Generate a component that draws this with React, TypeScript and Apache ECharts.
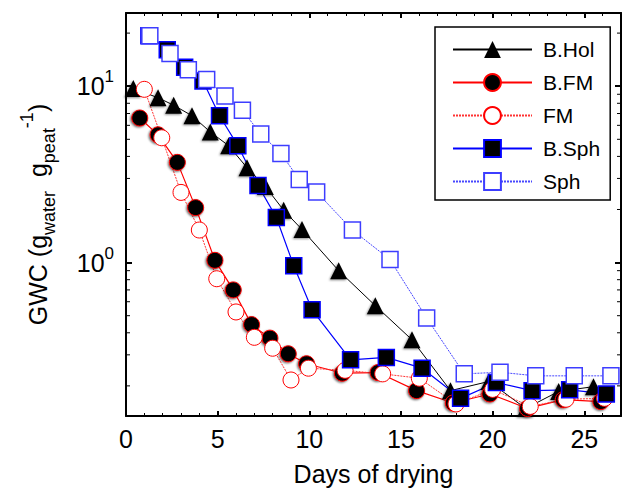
import React, { useEffect, useRef } from "react";
import * as echarts from "echarts";

// ---- data ----
const seriesNames = ["B.Hol", "B.FM", "FM", "B.Sph", "Sph"];

const bHolDays = [0.4, 1.75, 2.6, 3.6, 4.6, 5.6, 6.6, 7.6, 8.6, 9.6, 11.6, 13.6, 15.6, 17.7, 19.8, 21.8, 23.6, 25.5];
const bHolGwc = [9.7, 8.6, 7.8, 6.8, 5.5, 4.6, 3.45, 2.7, 1.98, 1.54, 0.9, 0.57, 0.365, 0.188, 0.212, 0.149, 0.186, 0.198];

const bFmDays = [0.75, 1.75, 2.8, 3.8, 4.85, 5.85, 6.85, 7.85, 8.85, 9.85, 11.8, 13.75, 15.85, 17.85, 19.85, 21.9, 23.85, 25.9];
const bFmGwc = [6.6, 5.3, 3.7, 2.05, 1.03, 0.7, 0.445, 0.373, 0.304, 0.267, 0.236, 0.238, 0.188, 0.16, 0.18, 0.149, 0.167, 0.163];

const fmDays = [1.0, 1.95, 3.0, 4.0, 4.95, 6.0, 7.0, 8.0, 9.0, 9.95, 11.95, 14.0, 16.0, 18.0, 20.0, 22.05, 24.0, 26.1];
const fmGwc = [9.6, 5.1, 2.5, 1.53, 0.81, 0.525, 0.377, 0.327, 0.216, 0.252, 0.245, 0.234, 0.221, 0.158, 0.191, 0.153, 0.168, 0.17];

const bSphDays = [1.25, 2.25, 3.2, 4.2, 5.1, 6.1, 7.2, 8.2, 9.15, 10.15, 12.25, 14.2, 16.15, 18.25, 20.2, 22.15, 24.2, 26.2];
const bSphGwc = [19.3, 16.1, 12.8, 10.7, 6.8, 4.6, 2.74, 1.8, 0.96, 0.54, 0.281, 0.29, 0.252, 0.17, 0.209, 0.188, 0.19, 0.18];

const sphDays = [1.3, 2.4, 3.4, 4.4, 5.4, 6.35, 7.35, 8.45, 9.45, 10.4, 12.35, 14.4, 16.4, 18.45, 20.4, 22.35, 24.45, 26.45];
const sphGwc = [19.3, 15.3, 12.4, 10.9, 8.8, 7.3, 5.36, 4.16, 2.96, 2.51, 1.53, 1.04, 0.485, 0.234, 0.239, 0.228, 0.228, 0.228];

const xMin = 0;
const xMax = 27;
const xInterval = 5;
const yMin = 0.135;
const yMax = 26;
const yMinorTicks = [0.2, 0.3, 0.4, 0.5, 0.6, 0.7, 0.8, 0.9, 2, 3, 4, 5, 6, 7, 8, 9, 20];

const FONT = '"Liberation Sans", Arial, Helvetica, sans-serif';

const zip = (xs: number[], ys: number[]) => xs.map((x, i) => [x, ys[i]]);

export default function App() {
  const ref = useRef<HTMLDivElement>(null);

  useEffect(() => {
    if (!ref.current) return;
    const chart = echarts.init(ref.current, null, { renderer: "svg" });

    const axisLine = { show: true, onZero: false, lineStyle: { color: "#000", width: 2 } };
    const xCommon = {
      type: "value",
      min: xMin,
      max: xMax,
      interval: xInterval,
      axisLine,
      axisTick: { show: true, inside: true, length: 5, lineStyle: { color: "#000", width: 2 } },
      minorTick: { show: true, splitNumber: 5, length: 3, lineStyle: { color: "#000", width: 1 } },
      splitLine: { show: false },
    };
    const yCommon = {
      type: "log",
      logBase: 10,
      min: yMin,
      max: yMax,
      axisLine,
      axisTick: { show: true, inside: true, length: 6, lineStyle: { color: "#000", width: 2 } },
      splitLine: { show: false },
      minorTick: { show: false },
    };

    const option: any = {
      animation: false,
      backgroundColor: "#fff",
      textStyle: { fontFamily: FONT },
      grid: { left: 126, right: 5, top: 13, bottom: 79, containLabel: false },
      xAxis: [
        {
          ...xCommon,
          position: "bottom",
          axisLabel: {
            show: true,
            color: "#000",
            fontSize: 25,
            fontFamily: FONT,
            margin: 10,
            formatter: (v: number) => (v % xInterval === 0 ? String(v) : ""),
          },
          name: "Days of drying",
          nameLocation: "middle",
          nameGap: 45,
          nameTextStyle: { color: "#000", fontSize: 25, fontFamily: FONT },
        },
        { ...xCommon, position: "top", axisLabel: { show: false } },
      ],
      yAxis: [
        {
          ...yCommon,
          position: "left",
          axisLabel: {
            show: true,
            margin: 12,
            color: "#000",
            fontFamily: FONT,
            formatter: (v: number) => {
              const e = Math.log10(v);
              const r = Math.round(e);
              if (Math.abs(e - r) > 1e-6) return "";
              return `{b|10}{s|${r}}`;
            },
            rich: {
              b: { fontSize: 25, lineHeight: 36, color: "#000", fontFamily: FONT },
              s: { fontSize: 17, lineHeight: 17, verticalAlign: "top", color: "#000", fontFamily: FONT },
            },
          },
          name: "GWC (g{sub|water}  g{sub|peat}{sup|-1})",
          nameLocation: "middle",
          nameRotate: 90,
          nameGap: 68,
          nameTextStyle: {
            color: "#000",
            fontSize: 25,
            fontFamily: FONT,
            lineHeight: 40,
            rich: {
              sub: { fontSize: 18, lineHeight: 18, verticalAlign: "bottom", color: "#000", fontFamily: FONT },
              sup: { fontSize: 18, lineHeight: 18, verticalAlign: "top", color: "#000", fontFamily: FONT },
            },
          },
        },
        { ...yCommon, position: "right", axisLabel: { show: false } },
      ],
      legend: {
        data: seriesNames,
        orient: "vertical",
        left: 435,
        top: 27,
        itemWidth: 79,
        itemHeight: 21,
        itemGap: 12,
        padding: [12, 10, 8, 17],
        borderColor: "#000",
        borderWidth: 1.5,
        borderRadius: 0,
        backgroundColor: "#fff",
        textStyle: { fontSize: 21, color: "#000", fontFamily: FONT, lineHeight: 21, padding: [0, 0, 0, 6] },
      },
      series: [
        {
          name: "B.Hol",
          type: "line",
          data: zip(bHolDays, bHolGwc),
          symbol: "triangle",
          symbolSize: 17,
          itemStyle: { color: "#000", shadowColor: "rgba(0,0,0,0.45)", shadowBlur: 2, shadowOffsetX: -1, shadowOffsetY: 1 },
          lineStyle: { color: "#000", width: 1 },
          emphasis: { disabled: true },
        },
        {
          name: "B.FM",
          type: "line",
          data: zip(bFmDays, bFmGwc),
          symbol: "circle",
          symbolSize: 16,
          itemStyle: { color: "#000", borderColor: "#f00", borderWidth: 1, shadowColor: "rgba(0,0,0,0.6)", shadowBlur: 2, shadowOffsetX: -1, shadowOffsetY: 1 },
          lineStyle: { color: "#f00", width: 1.2 },
          emphasis: { disabled: true },
        },
        {
          name: "FM",
          type: "line",
          data: zip(fmDays, fmGwc),
          symbol: "circle",
          symbolSize: 16,
          itemStyle: { color: "#fff", borderColor: "#f00", borderWidth: 1 },
          lineStyle: { color: "#f33", width: 1, type: [2, 1] },
          emphasis: { disabled: true },
        },
        {
          name: "B.Sph",
          type: "line",
          data: zip(bSphDays, bSphGwc),
          symbol: "rect",
          symbolSize: 16,
          itemStyle: { color: "#000", borderColor: "#00f", borderWidth: 1.5 },
          lineStyle: { color: "#00f", width: 1.2 },
          emphasis: { disabled: true },
        },
        {
          name: "Sph",
          type: "line",
          data: zip(sphDays, sphGwc),
          symbol: "rect",
          symbolSize: 16,
          itemStyle: { color: "#fff", borderColor: "#3d3dff", borderWidth: 1.5 },
          lineStyle: { color: "#4747ff", width: 1, type: [2, 1] },
          emphasis: { disabled: true },
        },
        {
          type: "custom",
          silent: true,
          xAxisIndex: 0,
          yAxisIndex: 0,
          clip: false,
          data: yMinorTicks.map((v) => [xMin, v]),
          renderItem: (params: any, api: any) => {
            const v = api.value(1);
            const pl = api.coord([xMin, v]);
            const pr = api.coord([xMax, v]);
            return {
              type: "group",
              children: [
                { type: "line", shape: { x1: pl[0], y1: pl[1], x2: pl[0] + 4, y2: pl[1] }, style: { stroke: "#000", lineWidth: 1 } },
                { type: "line", shape: { x1: pr[0], y1: pr[1], x2: pr[0] - 4, y2: pr[1] }, style: { stroke: "#000", lineWidth: 1 } },
              ],
            };
          },
        },
      ],
    };

    chart.setOption(option);
    return () => chart.dispose();
  }, []);

  return (
    <div
      ref={ref}
      style={{ position: "absolute", left: 0, top: 0, width: 626, height: 495, background: "#fff" }}
    />
  );
}
